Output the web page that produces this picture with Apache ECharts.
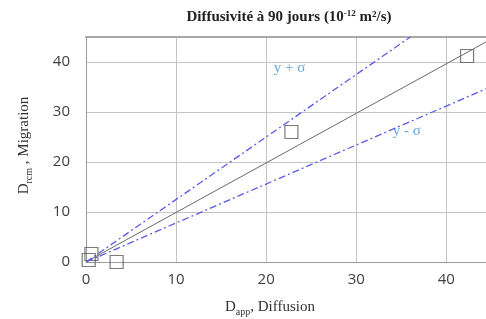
<!DOCTYPE html>
<html><head><meta charset="utf-8">
<script src="https://cdn.jsdelivr.net/npm/echarts@6/dist/echarts.min.js"></script>
<style>html,body{margin:0;padding:0;background:#fff}#c{width:486px;height:319px}</style>
</head><body><div id="c"></div>
<script>
// Measured points (D_app, D_rcm)
var pointsX = [0.6, 0.3, 3.4, 22.8, 42.3];
var pointsY = [1.6, 0.4, 0.0, 26.0, 41.2];
// Fitted line and ± sigma lines (endpoints)
var fitLine = [[0, 0], [45, 44.6]];
var plusSigma = [[0, 0], [36, 45]];
var minusSigma = [[0, 0], [45, 35.1]];
var annotations = [{text: 'y + σ', x: 22.6, y: 38.8}, {text: 'y - σ', x: 35.6, y: 26.2}];
var ticks = [0, 10, 20, 30, 40];

var chart = echarts.init(document.getElementById('c'), null, {renderer: 'canvas'});
var serif = 'Liberation Serif';
var tickFmt = function (v) { return ticks.indexOf(v) >= 0 ? String(v) : ''; };
chart.setOption({
  animation: false,
  title: {
    text: 'Diffusivité à 90 jours (10{sup|-12} m²/s)',
    left: 284, top: 4, textAlign: 'center',
    textStyle: {fontFamily: serif, fontWeight: 'bold', fontSize: 15, color: '#222',
      rich: {sup: {fontFamily: serif, fontWeight: 'bold', fontSize: 9, verticalAlign: 'top', color: '#222', padding: [0, 0, 7, 0]}}}
  },
  grid: {left: 86, top: 37, right: 0, bottom: 57, outerBoundsMode: 'none', containLabel: false},
  xAxis: [{
    type: 'value', min: 0, max: 44.4, interval: 10,
    name: '{a|D}{s|app}{a|, Diffusion}', nameLocation: 'middle', nameGap: 36,
    nameTextStyle: {padding: [0, 32, 0, 0], rich: {a: {fontFamily: serif, fontSize: 15, color: '#333'}, s: {fontFamily: serif, fontSize: 10, color: '#333', padding: [9, 0, 0, 0]}}},
    axisLine: {show: true, lineStyle: {color: '#9a9a9a', width: 1}},
    axisTick: {show: false},
    axisLabel: {formatter: tickFmt, fontFamily: 'Open Sans', fontSize: 15, color: '#404040', margin: 10},
    splitLine: {show: true, lineStyle: {color: '#c4c4c4', width: 1}}
  }, {
    type: 'value', position: 'top', min: 0, max: 44.4,
    axisLine: {show: true, lineStyle: {color: '#a8a8a8', width: 2}},
    axisTick: {show: false}, axisLabel: {show: false}, splitLine: {show: false}
  }],
  yAxis: {
    type: 'value', min: 0, max: 45, interval: 10,
    name: '{a|D}{s|rcm}{a| , Migration}', nameLocation: 'middle', nameGap: 52,
    nameTextStyle: {padding: [0, 0, 0, 8], rich: {a: {fontFamily: serif, fontSize: 15, color: '#333'}, s: {fontFamily: serif, fontSize: 10, color: '#333', padding: [9, 0, 0, 0]}}},
    axisLine: {show: true, lineStyle: {color: '#9a9a9a', width: 1}},
    axisTick: {show: false},
    axisLabel: {formatter: tickFmt, fontFamily: 'Open Sans', fontSize: 15, color: '#404040', margin: 16},
    splitLine: {show: true, lineStyle: {color: '#c4c4c4', width: 1}}
  },
  series: [
    {type: 'line', data: fitLine, showSymbol: false, lineStyle: {color: '#6a6a6a', width: 1}, silent: true},
    {type: 'line', data: plusSigma, showSymbol: false, lineStyle: {color: '#5b5be6', width: 1.3, type: [7, 3, 2, 3]}, silent: true},
    {type: 'line', data: minusSigma, showSymbol: false, lineStyle: {color: '#5b5be6', width: 1.3, type: [7, 3, 2, 3]}, silent: true},
    {type: 'scatter', data: pointsX.map(function (x, i) { return [x, pointsY[i]]; }),
      symbol: 'rect', symbolSize: 13, itemStyle: {color: 'rgba(255,255,255,0)', borderColor: '#5a5a5a', borderWidth: 1.2}},
    {type: 'scatter', data: annotations.map(function (a) { return {value: [a.x, a.y], name: a.text}; }),
      symbolSize: 0, label: {show: true, position: 'inside', formatter: '{b}', fontFamily: serif, fontSize: 15, color: '#3a8fd8'}}
  ]
});
</script></body></html>
